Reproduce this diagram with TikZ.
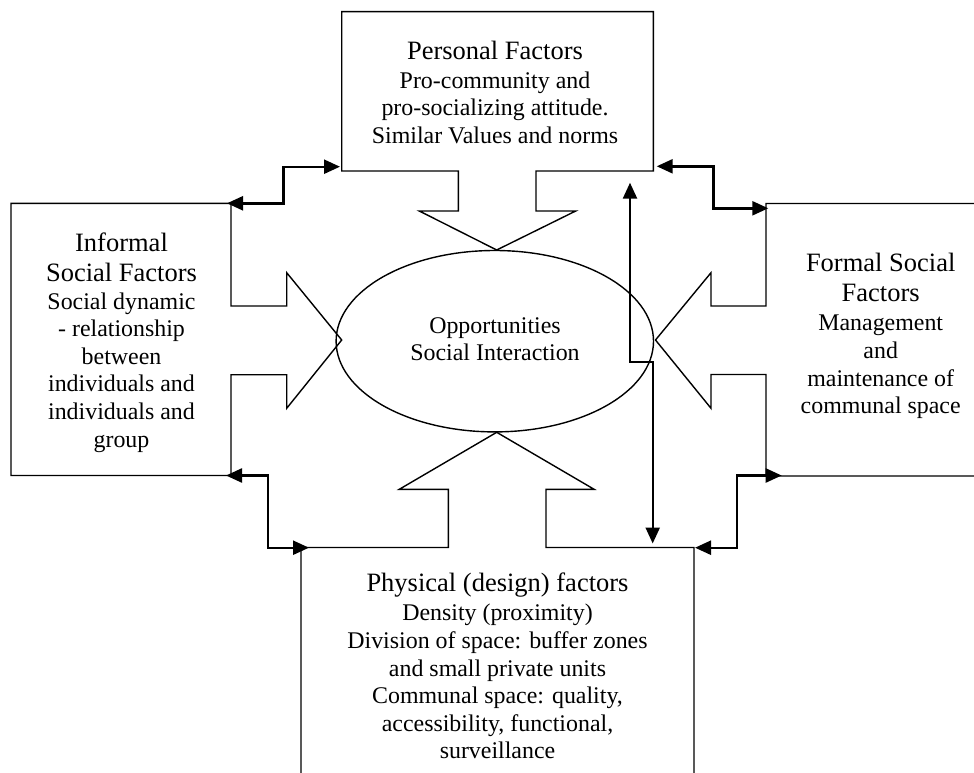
\documentclass[tikz,border=0pt]{standalone}
\usepackage{fontspec}
\setmainfont{Liberation Serif}
\usetikzlibrary{arrows.meta,shapes.geometric}
\tikzset{
  outline/.style={line width=1.4pt, line join=miter},
  conn/.style={line width=2.4pt, {Triangle[length=16pt,width=14pt]}-{Triangle[length=16pt,width=14pt]}},
  ttl/.style={anchor=base, font=\fontsize{26.5}{30}\selectfont, inner sep=0pt},
  txt/.style={anchor=base, font=\fontsize{23.9}{27.6}\selectfont, inner sep=0pt},
}
\begin{document}
\begin{tikzpicture}[x=1pt,y=-1pt]
\useasboundingbox (0,0) rectangle (974,773);
\clip (0,0) rectangle (974,773);

% Personal factors box with block arrow (down)
\draw[outline] (341.7,11.7) -- (653.3,11.7) -- (653.3,171) -- (536,171) -- (536,211)
  -- (575.7,211) -- (496.7,250) -- (419.3,211) -- (458.3,211) -- (458.3,171)
  -- (341.7,171) -- cycle;
% Informal social factors box with block arrow (right)
\draw[outline] (11,203.3) -- (231,203.3) -- (231,306) -- (286.7,306) -- (286.7,272.7)
  -- (341.7,340) -- (286.7,408.3) -- (286.7,374.7) -- (231,374.7) -- (231,475.5)
  -- (11,475.5) -- cycle;
% Formal social factors box with block arrow (left)
\draw[outline] (995,203.5) -- (766,203.5) -- (766,306) -- (711,306) -- (711,272.7)
  -- (655.5,340) -- (711,408.3) -- (711,374.5) -- (766,374.5) -- (766,476)
  -- (995,476) -- cycle;
% Physical factors box with block arrow (up)
\draw[outline] (301,800) -- (301,547.5) -- (448.3,547.5) -- (448.3,489.3) -- (399.3,489.3)
  -- (496.7,432.3) -- (594.1,489.3) -- (546,489.3) -- (546,547.5) -- (694,547.5)
  -- (694,800) -- cycle;

% Central ellipse
\node[draw, ellipse, outline, minimum width=317.4pt, minimum height=181.4pt, inner sep=0pt] (opp) at (494.8,341.2) {};

% Connector end points
\coordinate (tlA) at (340,166.7);
\coordinate (tlB) at (227,203.3);
\coordinate (trA) at (656.7,166.3);
\coordinate (trB) at (768.3,208.3);
\coordinate (vA) at (630,182.7);
\coordinate (vB) at (652.7,543.5);
\coordinate (blA) at (226,475.5);
\coordinate (blB) at (309,547.7);
\coordinate (brA) at (695,547.7);
\coordinate (brB) at (781.7,475.5);

\draw[conn] (tlA) -- (283.3,166.7) -- (283.3,203.3) -- (tlB);
\draw[conn] (trA) -- (713.3,166.3) -- (713.3,208.3) -- (trB);
\draw[conn] (vA) -- (630,362) -- (652.7,362) -- (vB);
\draw[conn] (blA) -- (267.7,475.5) -- (267.7,547.7) -- (blB);
\draw[conn] (brA) -- (736.7,547.7) -- (736.7,475.5) -- (brB);

% Personal text
\node[ttl] (p1) at (495,60) {Personal Factors};
\node[txt] (p2) at (495,88.3) {Pro-community and};
\node[txt] (p3) at (495,116) {pro-socializing attitude.};
\node[txt] (p4) at (495,143.5) {Similar Values and norms};

% Informal text
\node[ttl] (i1) at (121.5,251.7) {Informal};
\node[ttl] (i2) at (121.5,281) {Social Factors};
\node[txt] (i3) at (121.5,309.3) {Social dynamic};
\node[txt] (i4) at (121.5,336.7) {- relationship};
\node[txt] (i5) at (121.5,364.3) {between};
\node[txt] (i6) at (121.5,391.7) {individuals and};
\node[txt] (i7) at (121.5,419.3) {individuals and};
\node[txt] (i8) at (121.5,447) {group};

% Formal text
\node[ttl] (f1) at (880.7,271.7) {Formal Social};
\node[ttl] (f2) at (880.7,301.7) {Factors};
\node[txt] (f3) at (880.7,330.7) {Management};
\node[txt] (f4) at (880.7,358.3) {and};
\node[txt] (f5) at (880.7,386) {maintenance of};
\node[txt] (f6) at (880.7,413.3) {communal space};

% Physical text
\node[ttl] (h1) at (497.5,591.7) {Physical (design) factors};
\node[txt] (h2) at (497.5,620.7) {Density (proximity)};
\node[txt] (h3) at (497.5,648.3) {Division of space: buffer zones};
\node[txt] (h4) at (497.5,676) {and small private units};
\node[txt] (h5) at (497.5,703.3) {Communal space: quality,};
\node[txt] (h6) at (497.5,731) {accessibility, functional,};
\node[txt] (h7) at (497.5,758.3) {surveillance};

% Ellipse text
\node[txt] (o1) at (495,333) {Opportunities};
\node[txt] (o2) at (495,360) {Social Interaction};
\end{tikzpicture}
\end{document}
